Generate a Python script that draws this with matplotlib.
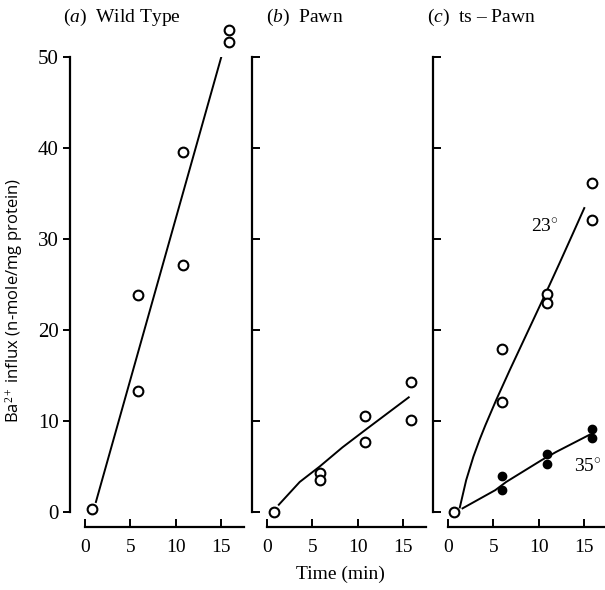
import matplotlib
matplotlib.use('Agg')
import matplotlib.pyplot as plt

plt.rcParams['font.family'] = 'Liberation Serif'
plt.rcParams['mathtext.fontset'] = 'custom'
plt.rcParams['mathtext.rm'] = 'Liberation Serif'
plt.rcParams['mathtext.it'] = 'Liberation Serif:italic'

# (a) wild type
wt_t = [0.8, 5.8, 5.8, 10.8, 10.8, 15.8, 15.8]
wt_ba = [0.3, 23.8, 13.3, 39.6, 27.1, 53.0, 51.6]
wt_fit_t = [1.2, 15.0]
wt_fit_ba = [1.1, 50.0]

# (b) pawn
pw_t = [0.8, 5.8, 5.8, 10.8, 10.8, 15.9, 15.9]
pw_ba = [0.0, 4.3, 3.5, 10.5, 7.7, 14.3, 10.1]
pw_fit_t = [1.3, 3.6, 5.8, 8.3, 10.8, 13.2, 15.6]
pw_fit_ba = [0.8, 3.3, 5.0, 7.1, 9.0, 10.8, 12.6]

# (c) ts-pawn, 23 deg (open) and 35 deg (filled)
ts23_t = [0.7, 5.9, 5.9, 10.9, 10.9, 15.9, 15.9]
ts23_ba = [0.0, 17.9, 12.1, 24.0, 23.0, 36.2, 32.1]
ts23_fit_t = [1.3, 2.0, 2.8, 3.5, 4.1, 5.3, 6.8, 8.3, 9.8, 11.2, 12.3, 13.7, 15.0]
ts23_fit_ba = [0.5, 3.5, 6.1, 8.0, 9.5, 12.3, 15.6, 18.8, 22.0, 25.0, 27.4, 30.5, 33.4]

ts35_t = [5.9, 5.9, 10.9, 10.9, 15.9, 15.9]
ts35_ba = [4.0, 2.4, 6.4, 5.3, 9.1, 8.1]
ts35_fit_t = [1.6, 5.2, 6.4, 10.3, 11.9, 15.6]
ts35_fit_ba = [0.4, 2.4, 3.3, 5.7, 6.6, 8.5]

titles = [r'$(\mathit{a})$  Wild Type', r'$(\mathit{b})$  Pawn', r'$(\mathit{c})$  ts – Pawn']
xticks = [0, 5, 10, 15]
yticks = [0, 10, 20, 30, 40, 50]

W, H = 605, 590
fig = plt.figure(figsize=(W / 100, H / 100), dpi=100)

lefts = [85, 267, 448]
axes = []
for i, L in enumerate(lefts):
    ax = fig.add_axes([L / W, 78 / H, 159 / W, 455 / H])
    ax.set_xlim(0, 17.5)
    ax.set_ylim(0, 50)
    for s in ['top', 'right']:
        ax.spines[s].set_visible(False)
    ax.spines['left'].set_position(('outward', 10.8))
    ax.spines['bottom'].set_position(('outward', 10.8))
    ax.spines['left'].set_linewidth(1.6)
    ax.spines['bottom'].set_linewidth(1.6)
    ax.set_xticks(xticks)
    ax.set_yticks(yticks)
    ax.tick_params(axis='x', direction='in', length=6, width=1.4, labelsize=14, pad=9)
    if i == 0:
        ax.tick_params(axis='y', direction='out', length=5, width=1.4, labelsize=15, pad=3)
    else:
        ax.tick_params(axis='y', direction='in', length=6, width=1.4, labelleft=False)
    ax.patch.set_visible(False)
    axes.append(ax)

open_kw = dict(marker='o', ms=7, mfc='white', mec='black', mew=1.5, ls='none', clip_on=False, zorder=3)
fill_kw = dict(marker='o', ms=6, mfc='black', mec='black', ls='none', clip_on=False, zorder=3)

ax = axes[0]
ax.plot(wt_fit_t, wt_fit_ba, color='black', lw=1.4)
ax.plot(wt_t, wt_ba, **open_kw)

ax = axes[1]
ax.plot(pw_fit_t, pw_fit_ba, color='black', lw=1.4)
ax.plot(pw_t, pw_ba, **open_kw)

ax = axes[2]
ax.plot(ts23_fit_t, ts23_fit_ba, color='black', lw=1.4)
ax.plot(ts35_fit_t, ts35_fit_ba, color='black', lw=1.4)
ax.plot(ts23_t, ts23_ba, **open_kw)
ax.plot(ts35_t, ts35_ba, **fill_kw)
ax.text(10.7, 31.3, '23$^{\\circ}$', fontsize=14, ha='center', va='center')
ax.text(15.4, 4.9, '35$^{\\circ}$', fontsize=14, ha='center', va='center')

title_x = [63, 266, 427]
for tx, t in zip(title_x, titles):
    fig.text(tx / W, 1 - 17 / H, t, fontsize=14, ha='left', va='center')

fig.text(14 / W, 1 - 300 / H, 'Ba$^{2+}$ influx (n-mole/mg protein)', family='Open Sans',
         fontsize=12, rotation=90, ha='center', va='center')
fig.text(340 / W, 1 - 574 / H, 'Time (min)', fontsize=14, ha='center', va='center')

fig.savefig('out.png', dpi=100)
